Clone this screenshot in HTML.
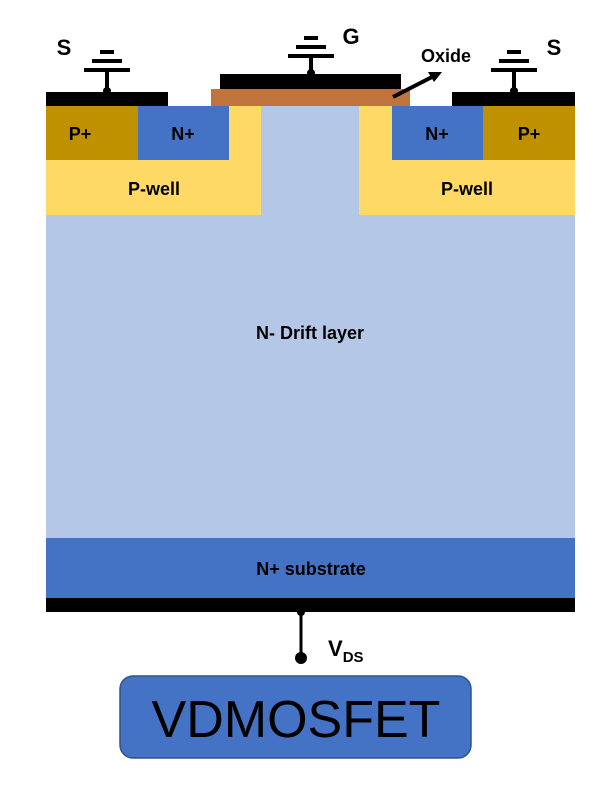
<!DOCTYPE html>
<html><head><style>
body{margin:0;background:#fff;width:603px;height:792px;overflow:hidden;font-family:"Liberation Sans",sans-serif}
</style></head><body>
<svg width="603" height="792" xmlns="http://www.w3.org/2000/svg" font-family="Liberation Sans, sans-serif">
<rect x="46" y="106" width="529" height="432" fill="#b4c7e7"/>
<rect x="46" y="106" width="215" height="109" fill="#ffd966"/>
<rect x="359" y="106" width="216" height="109" fill="#ffd966"/>
<rect x="46" y="106" width="92" height="54" fill="#bf9000"/>
<rect x="138" y="106" width="91" height="54" fill="#4472c4"/>
<rect x="392" y="106" width="91" height="54" fill="#4472c4"/>
<rect x="483" y="106" width="92" height="54" fill="#bf9000"/>
<rect x="46" y="538" width="529" height="60" fill="#4472c4"/>
<rect x="46" y="598" width="529" height="14" fill="#000"/>
<rect x="211" y="89" width="199" height="17" fill="#c0733a"/>
<rect x="220" y="74" width="181" height="15" fill="#000"/>
<rect x="46" y="92" width="122" height="14" fill="#000"/>
<rect x="452" y="92" width="123" height="14" fill="#000"/>
<g stroke="#000" stroke-width="4">
<line x1="107" y1="92" x2="107" y2="70"/><line x1="84" y1="70" x2="130" y2="70"/><line x1="92" y1="61" x2="122" y2="61"/><line x1="100" y1="52" x2="114" y2="52"/>
<line x1="311" y1="74" x2="311" y2="56"/><line x1="288" y1="56" x2="334" y2="56"/><line x1="296" y1="47" x2="326" y2="47"/><line x1="304" y1="38" x2="318" y2="38"/>
<line x1="514" y1="92" x2="514" y2="70"/><line x1="491" y1="70" x2="537" y2="70"/><line x1="499" y1="61" x2="529" y2="61"/><line x1="507" y1="52" x2="521" y2="52"/>
<line x1="393" y1="97" x2="432" y2="77"/>
<line x1="301" y1="612" x2="301" y2="656" stroke-width="3"/>
</g>
<polygon points="442,72 428,72 434,82" fill="#000"/>
<circle cx="107" cy="91" r="4"/><circle cx="311" cy="73" r="4"/><circle cx="514" cy="91" r="4"/>
<circle cx="301" cy="612" r="4"/><circle cx="301" cy="658" r="6"/>
<g font-weight="bold" font-size="18" text-anchor="middle">
<text x="80" y="140">P+</text><text x="183" y="140">N+</text><text x="437" y="140">N+</text><text x="529" y="140">P+</text>
<text x="154" y="195">P-well</text><text x="467" y="195">P-well</text>
<text x="310" y="339">N- Drift layer</text><text x="311" y="575">N+ substrate</text>
<text x="64" y="55" font-size="22">S</text><text x="351" y="44" font-size="22">G</text><text x="554" y="55" font-size="22">S</text>
<text x="446" y="62">Oxide</text>
</g>
<text x="328" y="656" font-weight="bold" font-size="22">V<tspan font-size="15" dy="6">DS</tspan></text>
<rect x="120" y="676" width="351" height="82" rx="13" fill="#4472c4" stroke="#2f528f" stroke-width="1.5"/>
<text x="296" y="737" font-size="52" text-anchor="middle" fill="#000">VDMOSFET</text>
</svg>
</body></html>
